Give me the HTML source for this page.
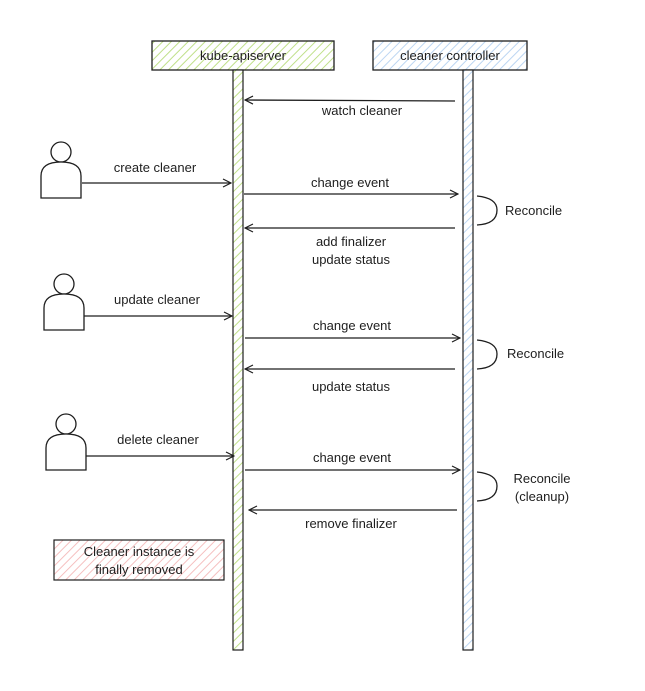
<!DOCTYPE html>
<html><head><meta charset="utf-8"><style>
html,body{margin:0;padding:0;background:#fff;}
svg{display:block;}
text{font-family:"Liberation Sans",sans-serif;font-size:13px;fill:#1e1e1e;}
</style></head><body>
<svg width="645" height="691" viewBox="0 0 645 691" xmlns="http://www.w3.org/2000/svg">
<defs>
<pattern id="hg" width="6" height="6" patternUnits="userSpaceOnUse" patternTransform="rotate(45)"><rect width="6" height="6" fill="#fff"/><line x1="0" y1="0" x2="0" y2="6" stroke="#c0e08a" stroke-width="2"/></pattern>
<pattern id="hb" width="6" height="6" patternUnits="userSpaceOnUse" patternTransform="rotate(45)"><rect width="6" height="6" fill="#fff"/><line x1="0" y1="0" x2="0" y2="6" stroke="#bcd6f2" stroke-width="2"/></pattern>
<pattern id="hr" width="6" height="6" patternUnits="userSpaceOnUse" patternTransform="rotate(45)"><rect width="6" height="6" fill="#fff"/><line x1="0" y1="0" x2="0" y2="6" stroke="#f5c0c0" stroke-width="2"/></pattern>
<marker id="ar" markerWidth="10" markerHeight="10" refX="9" refY="5" orient="auto" markerUnits="userSpaceOnUse"><path d="M1,1 L9,5 L1,9" fill="none" stroke="#1e1e1e" stroke-width="1.2"/></marker>
<g id="actor"><circle cx="21" cy="14" r="10" fill="#fff" stroke="#1e1e1e" stroke-width="1.3"/><path d="M1,60 L1,38 Q1,24 21,24 Q41,24 41,38 L41,60 Z" fill="#fff" stroke="#1e1e1e" stroke-width="1.3"/></g>
</defs>
<rect x="152" y="41" width="182" height="29" fill="url(#hg)" stroke="#1e1e1e" stroke-width="1.3"/>
<text x="243" y="60" text-anchor="middle">kube-apiserver</text>
<rect x="373" y="41" width="154" height="29" fill="url(#hb)" stroke="#1e1e1e" stroke-width="1.3"/>
<text x="450" y="60" text-anchor="middle">cleaner controller</text>
<rect x="233" y="70" width="10" height="580" fill="url(#hg)" stroke="#1e1e1e" stroke-width="1.2"/>
<rect x="463" y="70" width="10" height="580" fill="url(#hb)" stroke="#1e1e1e" stroke-width="1.2"/>
<g stroke="#1e1e1e" stroke-width="1.3" fill="none">
<line x1="455" y1="101" x2="245" y2="100" marker-end="url(#ar)"/>
<line x1="82" y1="183" x2="231" y2="183" marker-end="url(#ar)"/>
<line x1="244" y1="194" x2="458" y2="194" marker-end="url(#ar)"/>
<line x1="455" y1="228" x2="245" y2="228" marker-end="url(#ar)"/>
<line x1="84" y1="316" x2="232" y2="316" marker-end="url(#ar)"/>
<line x1="245" y1="338" x2="460" y2="338" marker-end="url(#ar)"/>
<line x1="455" y1="369" x2="245" y2="369" marker-end="url(#ar)"/>
<line x1="86" y1="456" x2="234" y2="456" marker-end="url(#ar)"/>
<line x1="245" y1="470" x2="460" y2="470" marker-end="url(#ar)"/>
<line x1="457" y1="510" x2="249" y2="510" marker-end="url(#ar)"/>
<path d="M477,196 Q497,198 497,210 Q497,224 477,225"/>
<path d="M477,340 Q497,342 497,354 Q497,368 477,369"/>
<path d="M477,472 Q497,474 497,486 Q497,500 477,501"/>
</g>
<use href="#actor" x="40" y="138"/>
<use href="#actor" x="43" y="270"/>
<use href="#actor" x="45" y="410"/>
<text x="362" y="115" text-anchor="middle">watch cleaner</text>
<text x="155" y="172" text-anchor="middle">create cleaner</text>
<text x="350" y="187" text-anchor="middle">change event</text>
<text x="505" y="215">Reconcile</text>
<text x="351" y="246" text-anchor="middle">add finalizer</text>
<text x="351" y="264" text-anchor="middle">update status</text>
<text x="157" y="304" text-anchor="middle">update cleaner</text>
<text x="352" y="330" text-anchor="middle">change event</text>
<text x="507" y="358">Reconcile</text>
<text x="351" y="391" text-anchor="middle">update status</text>
<text x="158" y="444" text-anchor="middle">delete cleaner</text>
<text x="352" y="462" text-anchor="middle">change event</text>
<text x="542" y="483" text-anchor="middle">Reconcile</text>
<text x="542" y="501" text-anchor="middle">(cleanup)</text>
<text x="351" y="528" text-anchor="middle">remove finalizer</text>
<rect x="54" y="540" width="170" height="40" fill="url(#hr)" stroke="#1e1e1e" stroke-width="1.2"/>
<text x="139" y="556" text-anchor="middle">Cleaner instance is</text>
<text x="139" y="574" text-anchor="middle">finally removed</text>
</svg>
</body></html>
